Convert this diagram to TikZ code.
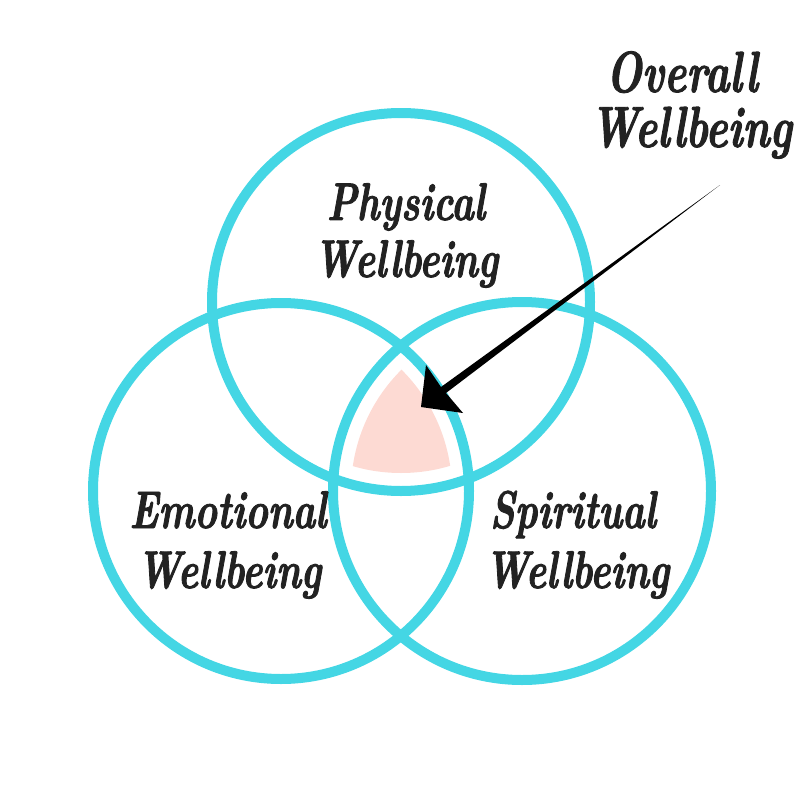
\documentclass[tikz,border=0pt]{standalone}
\usepackage{fontspec}
\newfontfamily\handfont{lmroman10-bolditalic.otf}[FakeStretch=0.72,FakeBold=1.6]
\begin{document}
\begin{tikzpicture}[x=1pt,y=-1pt,
  ring/.style={draw=ringc,line width=10pt},
  lbl/.style={text=inkc,inner sep=0pt,anchor=base,font=\fontsize{53}{60}\handfont},
  biglbl/.style={lbl,font=\fontsize{58}{66}\handfont}]
\definecolor{ringc}{RGB}{68,214,228}
\definecolor{pinkc}{RGB}{253,218,211}
\definecolor{inkc}{RGB}{34,34,34}
\useasboundingbox (0,0) rectangle (800,800);
\coordinate (ct) at (401,302);
\coordinate (cl) at (281,491);
\coordinate (cr) at (522,491);
% pink core
\begin{scope}
  \clip (ct) circle (171);
  \clip (cl) circle (171);
  \fill[pinkc] (cr) circle (171);
\end{scope}
\draw[ring] (ct) circle (189);
\draw[ring] (cl) circle (188);
\draw[ring] (cr) circle (189);
% labels
\node[lbl] (phys1) at (406,220) {Physical};
\node[lbl] (phys2) at (406,277) {Wellbeing};
\node[lbl] (emo1) at (228,528) {Emotional};
\node[lbl] (emo2) at (229,588) {Wellbeing};
\node[lbl] (spir1) at (573,528) {Spiritual};
\node[lbl] (spir2) at (577,588) {Wellbeing};
\node[biglbl] (over1) at (682,92) {Overall};
\node[biglbl] (over2) at (691,147) {Wellbeing};
% arrow
\coordinate (tail) at (720,185);
\coordinate (tip) at (421,407);
\coordinate (b1) at (426,365);
\coordinate (b2) at (463,413);
\coordinate (s1) at (446,393);
\coordinate (s2) at (441,387);
\fill[black] (tail) -- (s1) -- (b2) -- (tip) -- (b1) -- (s2) -- cycle;
\end{tikzpicture}
\end{document}
